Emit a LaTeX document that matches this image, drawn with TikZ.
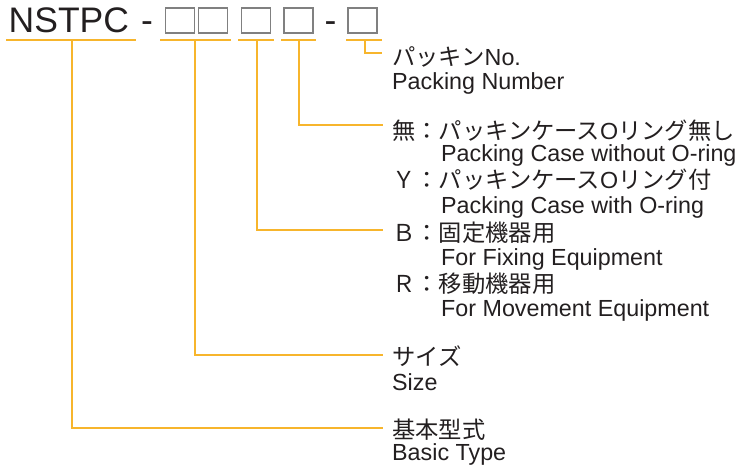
\documentclass[tikz,border=0pt]{standalone}
\usepackage{fontspec}
\setmainfont{Liberation Sans}
\newfontfamily\jp{Noto Sans CJK JP}
\definecolor{ln}{HTML}{F7B52C}
\definecolor{tx}{HTML}{231F20}
\definecolor{bx}{HTML}{808080}
\begin{document}
\begin{tikzpicture}[x=1pt,y=-1pt,
 lbl/.style={anchor=base west, inner sep=0, text=tx, font=\fontsize{23.3}{23.3}\selectfont},
 big/.style={anchor=base west, inner sep=0, text=tx, font=\fontsize{35.5}{35.5}\selectfont},
 conn/.style={draw=ln, line width=1.5pt},
 cell/.style={draw=bx, line width=1.3pt, minimum width=29pt, minimum height=25pt, inner sep=0}]
\useasboundingbox (0,0) rectangle (739,466);
% code
\node[big] (code) at (8.5,32.5) {NSTPC};
\node[big] (d1) at (141,32.5) {-};
\node[cell] (c1) at (180,20.5) {};
\node[cell] (c2) at (213,20.5) {};
\node[cell] (c3) at (256,20.5) {};
\node[cell] (c4) at (298.5,20.5) {};
\node[big] (d2) at (324.5,32.5) {-};
\node[cell] (c5) at (362.5,20.5) {};
% underline coordinates
\coordinate (u1a) at (6,40);   \coordinate (u1b) at (136,40);
\coordinate (u2a) at (160,40); \coordinate (u2b) at (231,40);
\coordinate (u3a) at (238,40); \coordinate (u3b) at (274,40);
\coordinate (u4a) at (281,40); \coordinate (u4b) at (316,40);
\coordinate (u5a) at (346,40); \coordinate (u5b) at (382,40);
\coordinate (t1) at (72,40);  \coordinate (e1) at (383,428);
\coordinate (t2) at (195,40); \coordinate (e2) at (383,355);
\coordinate (t3) at (257,40); \coordinate (e3) at (383,230);
\coordinate (t4) at (299,40); \coordinate (e4) at (383,125);
\coordinate (t5) at (365,40); \coordinate (e5) at (382,53);
% labels
\node[lbl] (pk) at (392,65) {{\jp パッキン}No.};
\node[lbl] (pken) at (392,89) {Packing Number};
\node[lbl] (nn) at (392,139) {{\jp 無：パッキンケース}O{\jp リング無し}};
\node[lbl] (nnen) at (441,161) {Packing Case without O-ring};
\node[lbl] (yy) at (392,188) {{\jp Ｙ：パッキンケース}O{\jp リング付}};
\node[lbl] (yyen) at (441,213) {Packing Case with O-ring};
\node[lbl] (bb) at (392,241) {{\jp Ｂ：固定機器用}};
\node[lbl] (bben) at (441,265) {For Fixing Equipment};
\node[lbl] (rr) at (392,292) {{\jp Ｒ：移動機器用}};
\node[lbl] (rren) at (441,316) {For Movement Equipment};
\node[lbl] (sz) at (392,365) {\jp サイズ};
\node[lbl] (szen) at (392,390) {Size};
\node[lbl] (bt) at (392,438) {\jp 基本型式};
\node[lbl] (bten) at (392,460) {Basic Type};
% connectors
\draw[conn] (u1a) -- (u1b);
\draw[conn] (u2a) -- (u2b);
\draw[conn] (u3a) -- (u3b);
\draw[conn] (u4a) -- (u4b);
\draw[conn] (u5a) -- (u5b);
\draw[conn] (t1) |- (e1);
\draw[conn] (t2) |- (e2);
\draw[conn] (t3) |- (e3);
\draw[conn] (t4) |- (e4);
\draw[conn] (t5) |- (e5);
\end{tikzpicture}
\end{document}
